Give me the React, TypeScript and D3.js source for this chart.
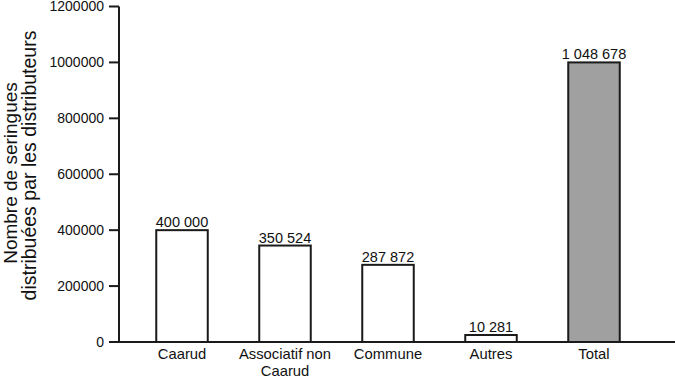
import React from "react";
import * as d3 from "d3";

const categories = ["Caarud", "Associatif non|Caarud", "Commune", "Autres", "Total"];
// bar heights as drawn in the picture
const barValues = [400000, 345000, 276000, 25000, 1000000];
// value labels printed above the bars
const valueLabels = ["400 000", "350 524", "287 872", "10 281", "1 048 678"];
const barFills = ["#ffffff", "#ffffff", "#ffffff", "#ffffff", "#a0a0a0"];
const yTicks = [0, 200000, 400000, 600000, 800000, 1000000, 1200000];
const yTitle = ["Nombre de seringues", "distribuées par les distributeurs"];

const W = 675;
const H = 376;
const FONT = "'Liberation Sans', Arial, Helvetica, sans-serif";

export default function App() {
  const axisX = 119;
  const y = d3.scaleLinear().domain([0, 1200000]).range([342, 6.5]);
  const x = d3
    .scaleBand<string>()
    .domain(categories)
    .range([130.5, 645.5])
    .paddingInner(0.5)
    .paddingOuter(0.25);

  return (
    <svg
      width={W}
      height={H}
      style={{ position: "absolute", left: 0, top: 0, background: "#fff" }}
      fontFamily={FONT}
    >
      {/* y title */}
      <g transform={`translate(17,173) rotate(-90)`}>
        <text textAnchor="middle" fontSize={19} fill="#111">{yTitle[0]}</text>
      </g>
      <g transform={`translate(35.5,165.5) rotate(-90)`}>
        <text textAnchor="middle" fontSize={19.5} fill="#111">{yTitle[1]}</text>
      </g>

      {/* bars */}
      {categories.map((c, i) => (
        <rect
          key={c}
          x={x(c)!}
          y={y(barValues[i])}
          width={x.bandwidth()}
          height={y(0) - y(barValues[i])}
          fill={barFills[i]}
          stroke="#1a1a1a"
          strokeWidth={2}
        />
      ))}

      {/* value labels */}
      {categories.map((c, i) => (
        <text
          key={"v" + c}
          x={x(c)! + x.bandwidth() / 2}
          y={y(barValues[i]) - 3}
          textAnchor="middle"
          fontSize={14.5}
          fill="#111"
        >
          {valueLabels[i]}
        </text>
      ))}

      {/* axes */}
      <line x1={axisX} x2={axisX} y1={y(1200000)} y2={y(0) + 1} stroke="#1a1a1a" strokeWidth={2} />
      <line x1={axisX - 1} x2={W} y1={y(0)} y2={y(0)} stroke="#1a1a1a" strokeWidth={2} />
      {yTicks.map((t) => (
        <g key={t}>
          <line x1={axisX - 10} x2={axisX} y1={y(t)} y2={y(t)} stroke="#1a1a1a" strokeWidth={2} />
          <text
            x={axisX - 15}
            y={y(t)}
            dy="0.35em"
            textAnchor="end"
            fontSize={14}
            fill="#111"
          >
            {t}
          </text>
        </g>
      ))}

      {/* x labels */}
      {categories.map((c) => (
        <text
          key={"x" + c}
          x={x(c)! + x.bandwidth() / 2}
          y={359}
          textAnchor="middle"
          fontSize={14.8}
          fill="#111"
        >
          {c.split("|").map((part, j) => (
            <tspan key={j} x={x(c)! + x.bandwidth() / 2} dy={j === 0 ? 0 : 16.5}>
              {part}
            </tspan>
          ))}
        </text>
      ))}
    </svg>
  );
}
